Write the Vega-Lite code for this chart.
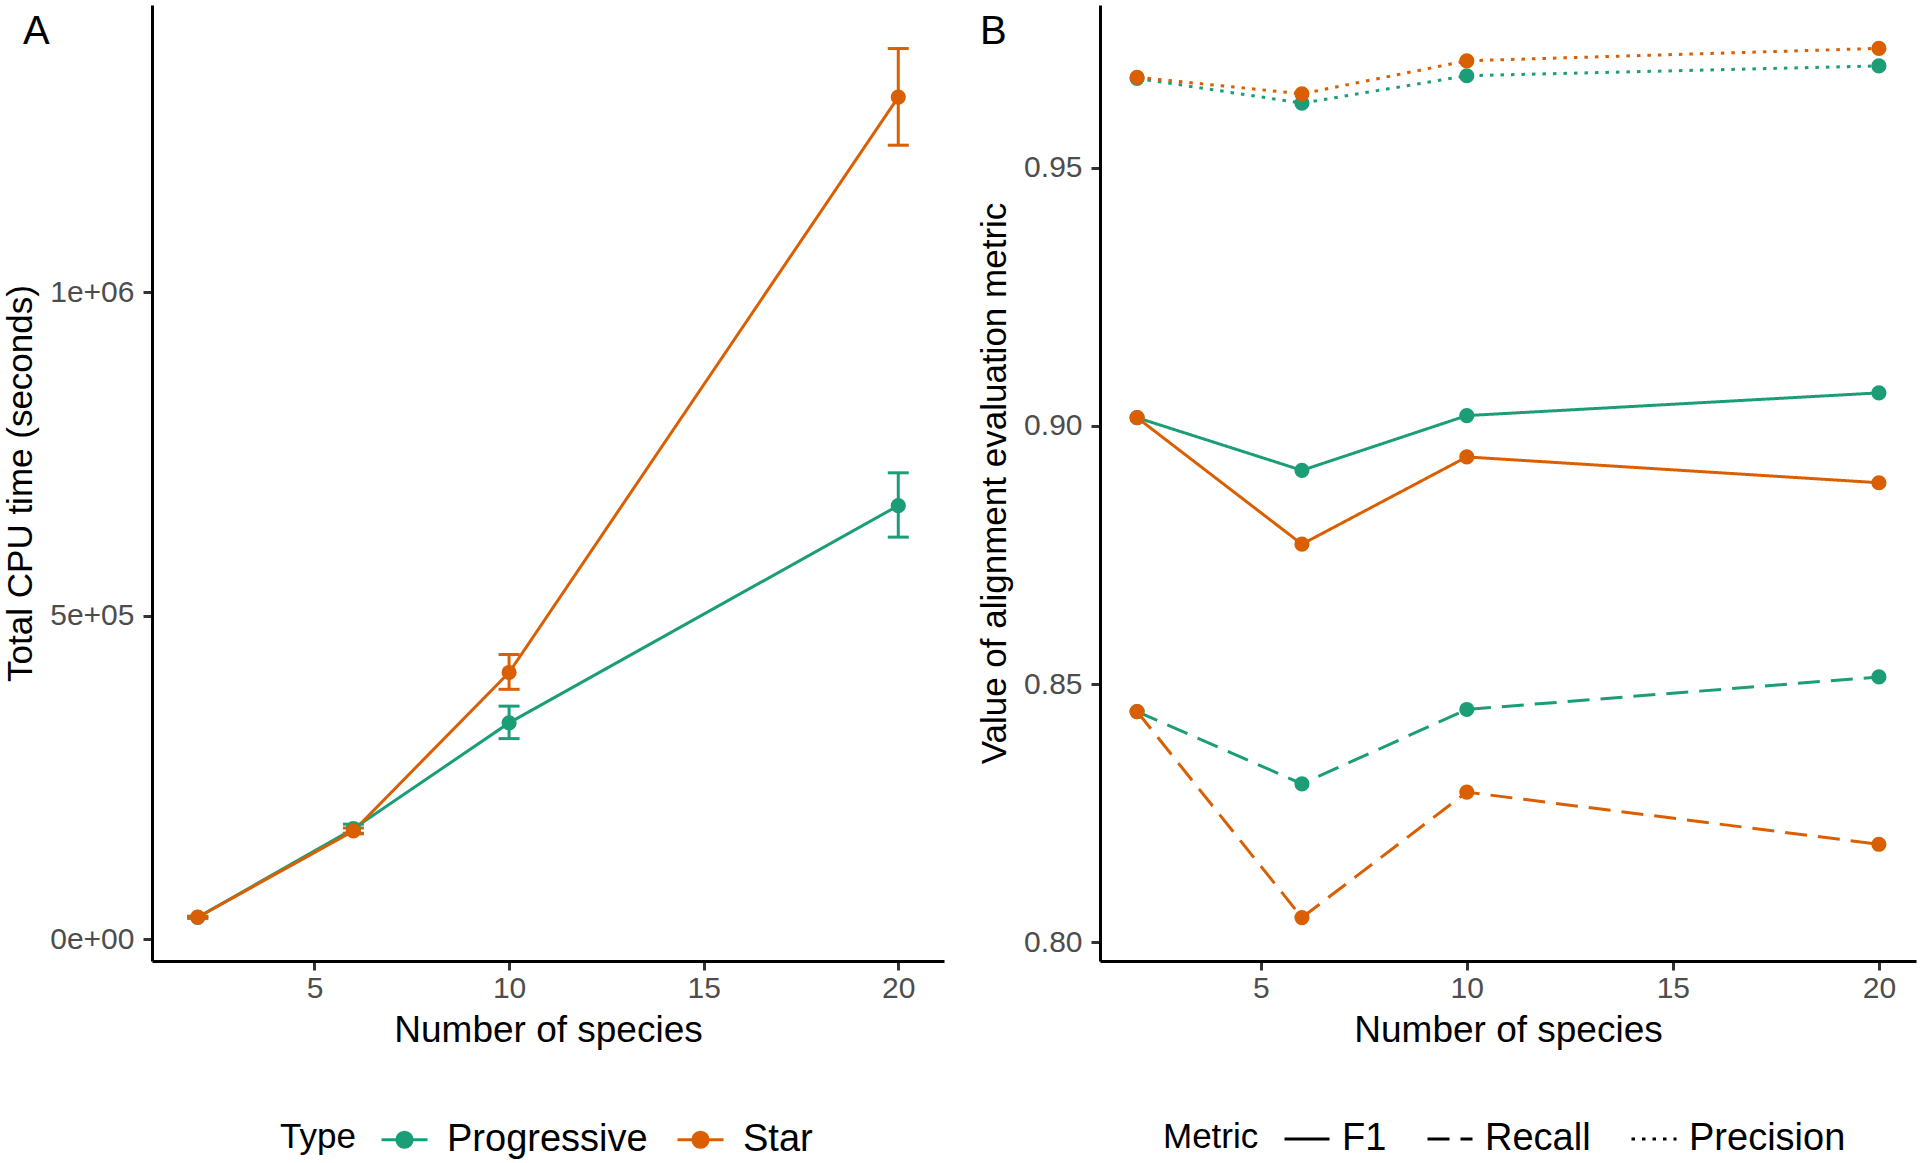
{
  "$schema": "https://vega.github.io/schema/vega-lite/v6.json",
  "background": "white",
  "padding": {"left": 3, "top": 5, "right": 4, "bottom": 0},
  "config": {
    "font": "Liberation Sans",
    "view": {"stroke": null},
    "axis": {
      "grid": false,
      "domainColor": "black",
      "domainWidth": 3,
      "tickColor": "#333333",
      "tickWidth": 3,
      "tickSize": 9,
      "labelPadding": 3,
      "labelColor": "#4d4d4d",
      "labelFontSize": 30,
      "titleColor": "black",
      "titleFontSize": 35,
      "titleFontWeight": "normal"
    },
    "axisY": {"labelPadding": 9, "titlePadding": 11},
    "axisX": {"titlePadding": 9, "titleFontSize": 37},
    "legend": {
      "orient": "none",
      "direction": "horizontal",
      "titleOrient": "left",
      "titleFontSize": 35,
      "titleFontWeight": "normal",
      "titleColor": "black",
      "labelFontSize": 38,
      "labelColor": "black",
      "labelLimit": 400,
      "padding": 0,
      "titlePadding": 24,
      "titleAnchor": "middle",
      "titleBaseline": "line-top",
      "titleLineHeight": 1
    },
    "title": {"fontSize": 40, "fontWeight": "normal", "color": "black", "anchor": "start", "frame": "group", "baseline": "alphabetic"}
  },
  "datasets": {
    "cpu": [
      {"Type": "Progressive", "species": 2, "time": 34000, "lo": 32500, "hi": 35500},
      {"Type": "Progressive", "species": 6, "time": 171000, "lo": 164000, "hi": 178000},
      {"Type": "Progressive", "species": 10, "time": 334500, "lo": 310200, "hi": 360400},
      {"Type": "Progressive", "species": 20, "time": 670300, "lo": 621600, "hi": 721000},
      {"Type": "Star", "species": 2, "time": 34200, "lo": 32800, "hi": 35600},
      {"Type": "Star", "species": 6, "time": 167500, "lo": 163000, "hi": 172000},
      {"Type": "Star", "species": 10, "time": 412400, "lo": 386400, "hi": 440200},
      {"Type": "Star", "species": 20, "time": 1301700, "lo": 1227300, "hi": 1376700}
    ],
    "metrics": [
      {"Type": "Progressive", "Metric": "F1", "species": 2, "value": 0.9016},
      {"Type": "Progressive", "Metric": "F1", "species": 6, "value": 0.8914},
      {"Type": "Progressive", "Metric": "F1", "species": 10, "value": 0.9020},
      {"Type": "Progressive", "Metric": "F1", "species": 20, "value": 0.9064},
      {"Type": "Progressive", "Metric": "Recall", "species": 2, "value": 0.8447},
      {"Type": "Progressive", "Metric": "Recall", "species": 6, "value": 0.8307},
      {"Type": "Progressive", "Metric": "Recall", "species": 10, "value": 0.8451},
      {"Type": "Progressive", "Metric": "Recall", "species": 20, "value": 0.8514},
      {"Type": "Progressive", "Metric": "Precision", "species": 2, "value": 0.9673},
      {"Type": "Progressive", "Metric": "Precision", "species": 6, "value": 0.9625},
      {"Type": "Progressive", "Metric": "Precision", "species": 10, "value": 0.9678},
      {"Type": "Progressive", "Metric": "Precision", "species": 20, "value": 0.9697},
      {"Type": "Star", "Metric": "F1", "species": 2, "value": 0.9016},
      {"Type": "Star", "Metric": "F1", "species": 6, "value": 0.8771},
      {"Type": "Star", "Metric": "F1", "species": 10, "value": 0.8940},
      {"Type": "Star", "Metric": "F1", "species": 20, "value": 0.8890},
      {"Type": "Star", "Metric": "Recall", "species": 2, "value": 0.8447},
      {"Type": "Star", "Metric": "Recall", "species": 6, "value": 0.8048},
      {"Type": "Star", "Metric": "Recall", "species": 10, "value": 0.8291},
      {"Type": "Star", "Metric": "Recall", "species": 20, "value": 0.8190},
      {"Type": "Star", "Metric": "Precision", "species": 2, "value": 0.9675},
      {"Type": "Star", "Metric": "Precision", "species": 6, "value": 0.9643},
      {"Type": "Star", "Metric": "Precision", "species": 10, "value": 0.9707},
      {"Type": "Star", "Metric": "Precision", "species": 20, "value": 0.9731}
    ]
  },
  "spacing": 33,
  "resolve": {"legend": {"color": "independent", "strokeDash": "independent"}},
  "hconcat": [
    {
      "width": 792,
      "height": 956,
      "title": {"text": "A", "dx": -129, "offset": -47},
      "data": {"name": "cpu"},
      "encoding": {
        "x": {
          "field": "species", "type": "quantitative",
          "scale": {"domain": [0.825, 21.175], "nice": false, "zero": false},
          "axis": {"values": [5, 10, 15, 20], "format": "d", "title": "Number of species"}
        },
        "color": {
          "field": "Type", "type": "nominal",
          "scale": {"domain": ["Progressive", "Star"], "range": ["#1b9e77", "#d95f02"]},
          "legend": {
            "title": "Type",
            "legendX": 128,
            "legendY": 1110,
            "labelOffset": 18,
            "columnPadding": 23,
            "symbolType": "M-1,0H1M-0.33,0A0.33,0.33,0,1,0,0.33,0A0.33,0.33,0,1,0,-0.33,0Z",
            "symbolSize": 2116,
            "symbolStrokeWidth": 3,
            "encode": {
              "symbols": {
                "update": {
                  "fill": {"scale": "color", "field": "value"},
                  "stroke": {"scale": "color", "field": "value"},
                  "strokeWidth": {"value": 3},
                  "opacity": {"value": 1}
                }
              }
            }
          }
        }
      },
      "layer": [
        {
          "mark": {"type": "line", "strokeWidth": 3},
          "encoding": {
            "y": {
              "field": "time", "type": "quantitative",
              "scale": {"domain": [-33500, 1444000], "nice": false, "zero": false},
              "axis": {
                "values": [0, 500000, 1000000],
                "title": "Total CPU time (seconds)",
                "labelExpr": "datum.value == 0 ? '0e+00' : datum.value == 500000 ? '5e+05' : '1e+06'"
              }
            }
          }
        },
        {
          "mark": {"type": "rule", "strokeWidth": 3},
          "encoding": {
            "y": {"field": "lo", "type": "quantitative"},
            "y2": {"field": "hi"}
          }
        },
        {
          "mark": {"type": "tick", "orient": "horizontal", "size": 21, "thickness": 3, "opacity": 1},
          "encoding": {"y": {"field": "lo", "type": "quantitative"}}
        },
        {
          "mark": {"type": "tick", "orient": "horizontal", "size": 21, "thickness": 3, "opacity": 1},
          "encoding": {"y": {"field": "hi", "type": "quantitative"}}
        },
        {
          "mark": {"type": "point", "filled": true, "opacity": 1, "size": 230},
          "encoding": {"y": {"field": "time", "type": "quantitative"}}
        }
      ]
    },
    {
      "width": 816,
      "height": 956,
      "title": {"text": "B", "dx": -120, "offset": -47},
      "data": {"name": "metrics"},
      "encoding": {
        "x": {
          "field": "species", "type": "quantitative",
          "scale": {"domain": [1.1, 20.9], "nice": false, "zero": false},
          "axis": {"values": [5, 10, 15, 20], "format": "d", "title": "Number of species"}
        },
        "y": {
          "field": "value", "type": "quantitative",
          "scale": {"domain": [0.7964, 0.9815], "nice": false, "zero": false},
          "axis": {"values": [0.8, 0.85, 0.9, 0.95], "format": ".2f", "title": "Value of alignment evaluation metric"}
        },
        "color": {
          "field": "Type", "type": "nominal",
          "scale": {"domain": ["Progressive", "Star"], "range": ["#1b9e77", "#d95f02"]},
          "legend": null
        }
      },
      "layer": [
        {
          "mark": {"type": "line", "strokeWidth": 3},
          "encoding": {
            "strokeDash": {
              "field": "Metric", "type": "nominal",
              "scale": {"domain": ["F1", "Recall", "Precision"], "range": [[1, 0], [22, 11], [3.5, 7]]},
              "legend": {
                "title": "Metric",
                "legendX": 63,
                "legendY": 1110,
                "labelOffset": 11,
                "columnPadding": 34,
                "symbolType": "stroke",
                "symbolSize": 2025,
                "symbolStrokeWidth": 3,
                "symbolStrokeColor": "black"
              }
            }
          }
        },
        {
          "mark": {"type": "point", "filled": true, "opacity": 1, "size": 230}
        }
      ]
    }
  ]
}
